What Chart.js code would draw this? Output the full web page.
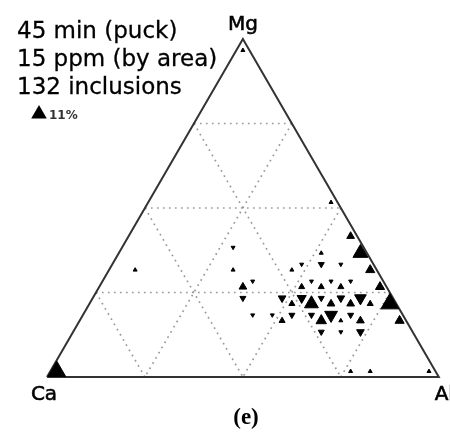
<!DOCTYPE html>
<html>
<head>
<meta charset="utf-8">
<script src="https://cdn.jsdelivr.net/npm/chart.js@4.4.0/dist/chart.umd.min.js"></script>
<style>
  html, body { margin: 0; padding: 0; background: #fff; }
</style>
</head>
<body>
<canvas id="ternary" width="450" height="432"></canvas>
<script>
// Bin centroids of the triangular histogram (composition in %)
const binCa = [96.67, 21.67, 16.67, 1.67, 1.67, 1.67,
               31.67, 21.67, 16.67, 11.67, 1.67,
               23.33, 18.33, 13.33,
               38.33, 33.33, 28.33, 23.33, 18.33, 13.33,
               26.67, 21.67, 16.67, 11.67, 6.67, 1.67,
               38.33, 28.33, 23.33, 18.33, 13.33, 8.33,
               36.67, 21.67, 16.67, 11.67, 1.67,
               33.33, 18.33, 13.33, 8.33,
               61.67, 36.67, 21.67, 1.67,
               18.33, 13.33, 8.33,
               11.67, 1.67,
               33.33,
               1.67];
const binMg = [1.67, 1.67, 1.67, 1.67, 96.67, 51.67,
               16.67, 16.67, 16.67, 16.67, 16.67,
               13.33, 13.33, 13.33,
               18.33, 18.33, 18.33, 18.33, 18.33, 18.33,
               21.67, 21.67, 21.67, 21.67, 21.67, 21.67,
               23.33, 23.33, 23.33, 23.33, 23.33, 23.33,
               26.67, 26.67, 26.67, 26.67, 26.67,
               28.33, 28.33, 28.33, 28.33,
               31.67, 31.67, 31.67, 31.67,
               33.33, 33.33, 33.33,
               36.67, 36.67,
               38.33,
               41.67];
const binAl = [1.67, 76.67, 81.67, 96.67, 1.67, 46.67,
               51.67, 61.67, 66.67, 71.67, 81.67,
               63.33, 68.33, 73.33,
               43.33, 48.33, 53.33, 58.33, 63.33, 68.33,
               51.67, 56.67, 61.67, 66.67, 71.67, 76.67,
               38.33, 48.33, 53.33, 58.33, 63.33, 68.33,
               36.67, 51.67, 56.67, 61.67, 71.67,
               38.33, 53.33, 58.33, 63.33,
               6.67, 31.67, 46.67, 66.67,
               48.33, 53.33, 58.33,
               51.67, 61.67,
               28.33,
               56.67];
// inclusions counted in each bin
const binCount = [12, 1, 1, 1, 1, 1,
                  2, 5, 1, 3, 4,
                  2, 1, 3,
                  1, 1, 2, 2, 7, 2,
                  2, 8, 3, 3, 2, 12,
                  2, 3, 4, 2, 3, 6,
                  3, 2, 2, 2, 4,
                  1, 1, 1, 1,
                  1, 1, 1, 4,
                  1, 2, 1,
                  1, 9,
                  1,
                  3];

const gridLevels = [25, 50, 75];
const noteLines = ['45 min (puck)', '15 ppm (by area)', '132 inclusions'];
const legendText = '11%';
const panelLabel = '(e)';

const H = Math.sqrt(3) / 2;

// ternary (Ca, Mg, Al) -> cartesian, Ca at left, Al at right, Mg on top
function toXY(ca, mg, al) {
    const s = ca + mg + al;
    return { x: (al + mg / 2) / s, y: (mg / s) * H };
}

function markerRadius(n) {
    return 2.3 * Math.pow(n, 0.6);
}

// --- datasets ---

const gridSets = [];
gridLevels.forEach(v => {
    gridSets.push([toXY(100 - v, v, 0), toXY(0, v, 100 - v)]);   // constant Mg
    gridSets.push([toXY(v, 100 - v, 0), toXY(v, 0, 100 - v)]);   // constant Ca
    gridSets.push([toXY(0, 100 - v, v), toXY(100 - v, 0, v)]);   // constant Al
});

const datasets = gridSets.map(seg => ({
    data: seg,
    showLine: true,
    borderColor: '#9a9a9a',
    borderWidth: 1.7,
    borderDash: [1.7, 4.3],
    pointRadius: 0,
    clip: false,
    order: 3
}));

datasets.push({
    data: [toXY(100, 0, 0), toXY(0, 0, 100), toXY(0, 100, 0), toXY(100, 0, 0)],
    showLine: true,
    borderColor: '#333',
    borderWidth: 2,
    borderJoinStyle: 'miter',
    pointRadius: 0,
    clip: false,
    order: 2
});

datasets.push({
    data: binCa.map((ca, i) => toXY(ca, binMg[i], binAl[i])),
    pointStyle: 'triangle',
    pointRadius: binCount.map(markerRadius),
    pointRotation: binMg.map(mg => (mg % 5) < 2.5 ? 0 : 180),
    backgroundColor: '#000',
    borderColor: '#000',
    borderWidth: 1,
    clip: false,
    order: 1
});

// --- text on top ---

function boldText(ctx, t, x, y, w) {
    ctx.fillText(t, x, y);
    ctx.lineWidth = w;
    ctx.strokeText(t, x, y);
}

const annotations = {
    id: 'annotations',
    afterDraw(chart) {
        const ctx = chart.ctx;
        const px = p => ({ x: chart.scales.x.getPixelForValue(p.x), y: chart.scales.y.getPixelForValue(p.y) });
        ctx.save();
        ctx.fillStyle = '#000';
        ctx.strokeStyle = '#000';

        // vertex labels
        const ca = px(toXY(100, 0, 0)), mg = px(toXY(0, 100, 0)), al = px(toXY(0, 0, 100));
        ctx.textAlign = 'center';
        ctx.textBaseline = 'alphabetic';
        ctx.font = '20px "DejaVu Sans"';
        boldText(ctx, 'Mg', mg.x, mg.y - 9, 0.6);
        boldText(ctx, 'Ca', ca.x - 3, ca.y + 23, 0.6);
        boldText(ctx, 'Al', al.x + 5.5, al.y + 23, 0.6);

        // notes
        ctx.textAlign = 'left';
        ctx.font = '23px "DejaVu Sans"';
        noteLines.forEach((t, i) => boldText(ctx, t, 17, 38 + i * 28, 0.3));

        // size key
        const kx = 39, ky = 114, kr = 9;
        ctx.beginPath();
        ctx.moveTo(kx, ky - kr);
        ctx.lineTo(kx + kr * 0.866, ky + kr / 2);
        ctx.lineTo(kx - kr * 0.866, ky + kr / 2);
        ctx.closePath();
        ctx.fill();
        ctx.fillStyle = '#333';
        ctx.font = 'bold 12px "DejaVu Sans"';
        ctx.fillText(legendText, 49, 119);

        // panel label
        ctx.fillStyle = '#000';
        ctx.textAlign = 'center';
        ctx.font = 'bold 23px "Liberation Serif"';
        ctx.fillText(panelLabel, 246, 424);
        ctx.restore();
    }
};

new Chart(document.getElementById('ternary'), {
    type: 'scatter',
    data: { datasets },
    options: {
        responsive: false,
        animation: false,
        layout: { padding: { left: 47, right: 11, top: 39, bottom: 55 } },
        scales: {
            x: { type: 'linear', min: 0, max: 1, display: false },
            y: { type: 'linear', min: 0, max: H, display: false }
        },
        plugins: {
            legend: { display: false },
            tooltip: { enabled: false }
        }
    },
    plugins: [annotations]
});
</script>
</body>
</html>
